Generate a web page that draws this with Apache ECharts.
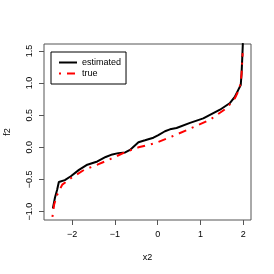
<!DOCTYPE html>
<html>
<head>
<meta charset="utf-8">
<script src="https://cdn.jsdelivr.net/npm/echarts@6/dist/echarts.min.js"></script>
<style>html,body{margin:0;padding:0;background:#fff}#c{width:274px;height:274px}</style>
</head>
<body>
<div id="c"></div>
<script>
var estX = [-2.45,-2.40,-2.35,-2.31,-2.17,-2.03,-1.84,-1.645,-1.41,-1.215,-1.06,-0.92,-0.76,-0.647,-0.45,-0.297,-0.10,0.015,0.17,0.287,0.44,0.755,1.065,1.455,1.69,1.806,1.88,1.94,1.96,1.977,1.99];
var estY = [-0.95,-0.78,-0.66,-0.54,-0.51,-0.45,-0.35,-0.27,-0.22,-0.15,-0.11,-0.09,-0.08,-0.04,0.08,0.11,0.15,0.19,0.25,0.28,0.30,0.38,0.45,0.585,0.69,0.79,0.89,0.97,1.15,1.41,1.62];
var trueX = [-2.46,-2.42,-2.35,-2.23,-2.03,-1.72,-1.41,-1.10,-0.76,-0.45,-0.06,0.33,0.755,1.22,1.61,1.806,1.88,1.94,1.96,1.985];
var trueY = [-1.08,-0.89,-0.74,-0.58,-0.48,-0.35,-0.27,-0.18,-0.075,0.0,0.065,0.168,0.29,0.428,0.61,0.765,0.87,1.0,1.15,1.465];
var xTicks = [-2,-1,0,1,2];
var xTickLabels = ['\u22122','\u22121','0','1','2'];
var yTicks = [-1,-0.5,0,0.5,1,1.5];
var yTickLabels = ['\u22121.0','\u22120.5','0.0','0.5','1.0','1.5'];
var seriesNames = ['estimated','true'];

function zip(a,b){return a.map(function(v,i){return [v,b[i]];});}
function lab(vals,labs){return function(v){for(var i=0;i<vals.length;i++){if(Math.abs(vals[i]-v)<1e-9)return labs[i];}return '';};}

var FONT = 'Liberation Sans';
var chart = echarts.init(document.getElementById('c'), null, {renderer:'canvas'});
chart.setOption({
  animation:false,
  backgroundColor:'#fff',
  grid:{left:44,top:44,width:207,height:176,show:true,borderColor:'#555',borderWidth:1,backgroundColor:'transparent',
    containLabel:false,outerBoundsMode:'none'},
  xAxis:{type:'value',min:-2.657,max:2.18,
    name:'x2',nameLocation:'middle',nameGap:33,nameTextStyle:{fontSize:9,fontFamily:FONT,color:'#000'},
    axisLine:{show:false,onZero:false},splitLine:{show:false},
    axisTick:{show:true,length:5,inside:false,customValues:xTicks,lineStyle:{color:'#555'}},
    axisLabel:{customValues:xTicks,formatter:lab(xTicks,xTickLabels),margin:10,fontSize:9,fontFamily:FONT,color:'#000'}},
  yAxis:{type:'value',min:-1.13,max:1.607,
    name:'f2',nameLocation:'middle',nameGap:32,nameTextStyle:{fontSize:9,fontFamily:FONT,color:'#000'},
    axisLine:{show:false,onZero:false},splitLine:{show:false},
    axisTick:{show:true,length:5,inside:false,customValues:yTicks,lineStyle:{color:'#555'}},
    axisLabel:{customValues:yTicks,formatter:lab(yTicks,yTickLabels),rotate:90,margin:10,fontSize:9,fontFamily:FONT,color:'#000'}},
  legend:{show:true,left:51,top:52,orient:'vertical',padding:[6,5,6,7],itemWidth:18,itemHeight:9,itemGap:2,
    borderColor:'#000',borderWidth:1,backgroundColor:'#fff',
    itemStyle:{opacity:0},
    textStyle:{fontSize:9,fontFamily:FONT,color:'#000'},data:seriesNames},
  series:[
    {name:seriesNames[0],type:'line',data:zip(estX,estY),showSymbol:false,symbol:'none',clip:true,
     lineStyle:{color:'#000',width:2},itemStyle:{color:'#000'}},
    {name:seriesNames[1],type:'line',data:zip(trueX,trueY),showSymbol:false,symbol:'none',clip:true,
     lineStyle:{color:'#ff0000',width:2,type:[2,6,8,6]},itemStyle:{color:'#ff0000'}}
  ]
});
</script>
</body>
</html>
